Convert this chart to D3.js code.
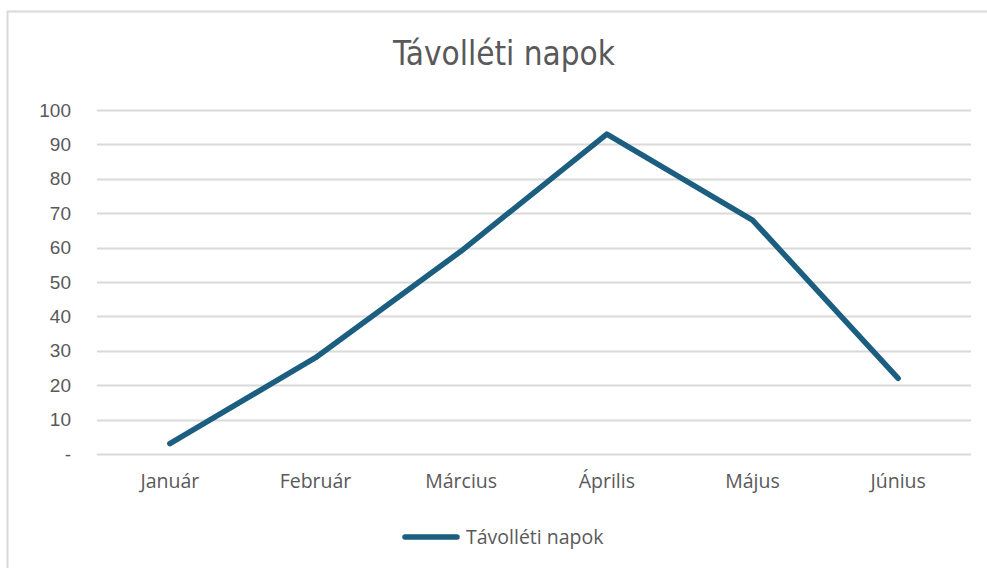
<!DOCTYPE html>
<html>
<head>
<meta charset="utf-8">
<script src="https://d3js.org/d3.v7.min.js"></script>
<style>
  body { margin: 0; background: #fff; }
</style>
</head>
<body>
<svg width="987" height="568"></svg>
<script>
var months = ["Január", "Február", "Március", "Április", "Május", "Június"];
var values = [3, 28, 59, 93, 68, 22];
var yTicks = [0, 10, 20, 30, 40, 50, 60, 70, 80, 90, 100];
var title = "Távolléti napok";
var seriesName = "Távolléti napok";

var svg = d3.select("svg");
var lineColor = "#1b5e80";
var textColor = "#595959";

// chart frame
svg.append("rect")
    .attr("x", 7.5).attr("y", 11.5)
    .attr("width", 1000).attr("height", 600)
    .attr("fill", "#fff")
    .attr("stroke", "#d9d9d9")
    .attr("stroke-width", 2);

var x = d3.scaleBand().domain(months).range([97, 971]);
var y = d3.scaleLinear().domain([0, 100]).range([454, 110]);

// gridlines
svg.append("g")
    .selectAll("line")
    .data(yTicks)
    .enter()
    .append("line")
    .attr("x1", 97).attr("x2", 971)
    .attr("y1", function (d) { return Math.round(y(d)) + 0.5; })
    .attr("y2", function (d) { return Math.round(y(d)) + 0.5; })
    .attr("stroke", "#d9d9d9")
    .attr("stroke-width", 2);

// y axis labels
var yAxis = d3.axisLeft(y)
    .tickValues(yTicks)
    .tickSize(0)
    .tickPadding(0)
    .tickFormat(function (d) { return d === 0 ? "-" : d; });

var yg = svg.append("g")
    .attr("transform", "translate(71,0)")
    .call(yAxis);
yg.select(".domain").remove();
yg.selectAll("text")
    .attr("fill", textColor)
    .style("font-family", "'Liberation Sans', Arial, sans-serif")
    .style("font-size", "19px");

// x axis labels
var xAxis = d3.axisBottom(x).tickSize(0).tickPadding(0);
var xg = svg.append("g")
    .attr("transform", "translate(0,474)")
    .call(xAxis);
xg.select(".domain").remove();
xg.selectAll("text")
    .attr("fill", textColor)
    .style("font-family", "'Open Sans', sans-serif")
    .style("font-size", "19.5px");

// line
var line = d3.line()
    .x(function (d, i) { return x(months[i]) + x.bandwidth() / 2; })
    .y(function (d) { return y(d); });

svg.append("path")
    .datum(values)
    .attr("d", line)
    .attr("fill", "none")
    .attr("stroke", lineColor)
    .attr("stroke-width", 5.5)
    .attr("stroke-linecap", "round")
    .attr("stroke-linejoin", "round");

// title
svg.append("text")
    .attr("x", 504).attr("y", 65)
    .attr("text-anchor", "middle")
    .attr("fill", textColor)
    .style("font-family", "'Liberation Sans Narrow', 'DejaVu Sans Condensed', sans-serif")
    .style("font-size", "33px")
    .text(title);

// legend
svg.append("line")
    .attr("x1", 405).attr("x2", 457)
    .attr("y1", 537).attr("y2", 537)
    .attr("stroke", lineColor)
    .attr("stroke-width", 5.5)
    .attr("stroke-linecap", "round");

svg.append("text")
    .attr("x", 466).attr("y", 544)
    .attr("fill", textColor)
    .style("font-family", "'Open Sans', sans-serif")
    .style("font-size", "19.5px")
    .text(seriesName);
</script>
</body>
</html>
